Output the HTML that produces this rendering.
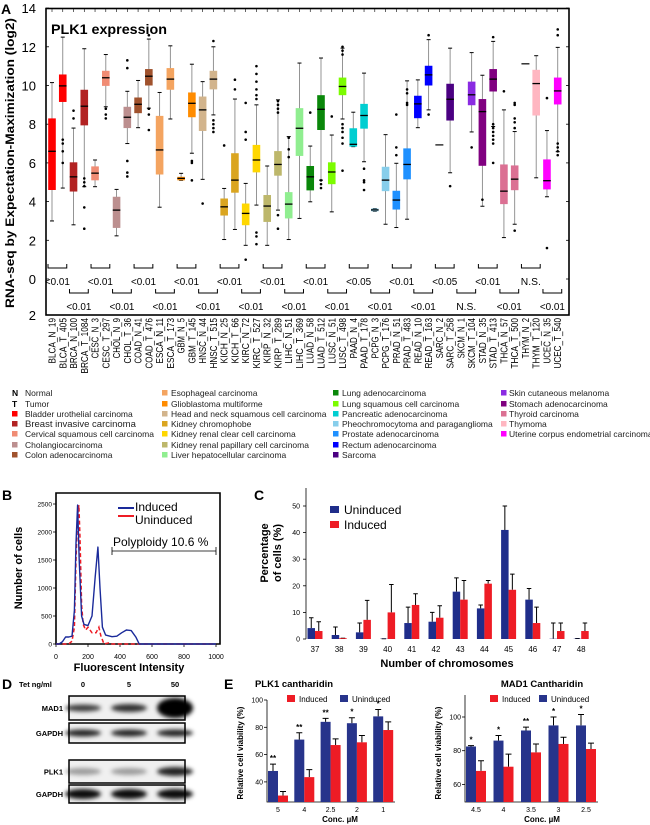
<!DOCTYPE html>
<html><head><meta charset="utf-8"><style>
html,body{margin:0;padding:0;background:#fff;}
svg{display:block;font-family:"Liberation Sans",Arial,sans-serif;}
.t{fill:#000;}
</style></head><body>
<svg id="fig" width="650" height="825" viewBox="0 0 650 825" xmlns="http://www.w3.org/2000/svg">
<defs>
<filter id="blur" x="-50%" y="-100%" width="200%" height="300%"><feGaussianBlur stdDeviation="2.2"/></filter>
</defs>
<text x="1" y="14" font-size="14" font-weight="bold">A</text>
<rect x="46" y="8.5" width="523" height="306.5" fill="none" stroke="#000" stroke-width="1.6"/>
<text x="51" y="34" font-size="14" font-weight="bold" textLength="116" lengthAdjust="spacingAndGlyphs">PLK1 expression</text>
<text transform="translate(14,163) rotate(-90)" text-anchor="middle" font-size="11.5" font-weight="bold" textLength="290" lengthAdjust="spacingAndGlyphs">RNA-seq by Expectation-Maximization (log2)</text>
<g id="gA"></g>
<g id="gAlab"></g>
<g id="gLeg" font-size="8.5"></g>

<text x="2" y="500" font-size="14" font-weight="bold">B</text>
<text transform="translate(22,568) rotate(-90)" text-anchor="middle" font-size="11" font-weight="bold">Number of cells</text>
<text x="129" y="671" text-anchor="middle" font-size="11" font-weight="bold">Fluorescent Intensity</text>
<g id="gB"></g>
<text x="135" y="511" font-size="12">Induced</text>
<text x="135" y="524" font-size="12">Uninduced</text>
<line x1="118" y1="508" x2="134" y2="508" stroke="#1a2a9a" stroke-width="2"/>
<line x1="118" y1="516" x2="134" y2="516" stroke="#ee1c25" stroke-width="2"/>
<text x="113" y="546" font-size="12">Polyploidy 10.6 %</text>
<path d="M112,547 V555 M112,551 H216 M216,547 V555" stroke="#000" stroke-width="0.8" fill="none"/>

<text x="254" y="500" font-size="14" font-weight="bold">C</text>
<text transform="translate(268,553) rotate(-90)" text-anchor="middle" font-size="11" font-weight="bold">Percentage</text>
<text transform="translate(281,553) rotate(-90)" text-anchor="middle" font-size="11" font-weight="bold">of cells (%)</text>
<text x="447" y="667" text-anchor="middle" font-size="11" font-weight="bold">Number of chromosomes</text>
<rect x="330" y="506" width="9" height="7" fill="#1f2d8a"/>
<text x="344" y="514" font-size="12">Uninduced</text>
<rect x="330" y="521" width="9" height="7" fill="#ee1c25"/>
<text x="344" y="529" font-size="12">Induced</text>
<g id="gC"></g>

<text x="2" y="689" font-size="14" font-weight="bold">D</text>
<text x="19" y="687" font-size="7.5" font-weight="bold">Tet ng/ml</text>
<text x="83" y="687" font-size="7.5" font-weight="bold" text-anchor="middle">0</text>
<text x="129" y="687" font-size="7.5" font-weight="bold" text-anchor="middle">5</text>
<text x="175" y="687" font-size="7.5" font-weight="bold" text-anchor="middle">50</text>
<g id="gD"></g>

<text x="224" y="689" font-size="14" font-weight="bold">E</text>
<g id="gE1"></g>
<g id="gE2"></g>
</svg>
<script>
const NS='http://www.w3.org/2000/svg';
function mk(parent,tag,attrs,txt){const e=document.createElementNS(NS,tag);for(const k in attrs)e.setAttribute(k,attrs[k]);if(txt!==undefined)e.textContent=txt;parent.appendChild(e);return e;}

const catsA=['BLCA_N_19','BLCA_T_405','BRCA_N_100','BRCA_T_1084','CESC_N_3','CESC_T_297','CHOL_N_9','CHOL_T_36','COAD_N_41','COAD_T_476','ESCA_N_11','ESCA_T_173','GBM_N_5','GBM_T_145','HNSC_N_44','HNSC_T_515','KICH_N_25','KICH_T_66','KIRC_N_72','KIRC_T_527','KIRP_N_32','KIRP_T_289','LIHC_N_51','LIHC_T_369','LUAD_N_58','LUAD_T_512','LUSC_N_51','LUSC_T_498','PAAD_N_4','PAAD_T_178','PCPG_N_3','PCPG_T_176','PRAD_N_51','PRAD_T_483','READ_N_10','READ_T_163','SARC_N_2','SARC_T_258','SKCM_N_1','SKCM_T_104','STAD_N_35','STAD_T_413','THCA_N_57','THCA_T_500','THYM_N_2','THYM_T_120','UCEC_N_35','UCEC_T_540'];
const colorsA=['#ff0000','#b22222','#f08c74','#bc8f8f','#a0522d','#f4a460','#ff8c00','#d2b48c','#daa520','#ffd700','#bdb76b','#90ee90','#0a870a','#7cfc00','#00ced1','#87ceeb','#1e90ff','#0000ff','#4b0082','#8a2be2','#800080','#db7093','#ffb6c1','#ff00ff'];
const medA=[6.6,9.98,5.28,8.93,5.47,10.4,3.56,8.36,9.03,10.48,6.67,10.33,5.2,9.08,8.74,10.33,3.73,5.11,3.39,6.15,3.77,5.92,3.87,7.79,5.28,8.77,5.53,9.95,6.96,8.45,3.57,5.11,4.08,5.92,9.05,10.55,6.93,9.29,null,9.52,8.65,10.33,4.54,5.16,11.12,10.1,5.08,9.72];
const q1A=[4.6,9.15,4.52,7.94,5.1,9.98,2.64,7.8,8.57,10.0,5.4,9.78,5.1,8.36,7.65,9.8,3.28,4.46,2.78,5.51,2.95,5.34,3.13,6.36,4.58,7.7,4.9,9.5,6.84,7.77,3.5,4.54,3.59,5.15,8.31,10.0,6.93,8.19,null,8.98,5.85,9.69,3.87,4.59,11.12,8.45,4.63,9.02];
const q3A=[8.3,10.57,6.03,9.78,5.82,10.76,4.25,8.9,9.38,10.85,8.43,10.9,5.28,9.64,9.43,10.76,4.16,6.5,3.9,6.93,4.34,6.61,4.49,8.83,5.84,9.5,6.03,10.41,7.79,9.05,3.64,5.8,4.56,6.75,9.47,11.02,6.93,10.09,null,10.2,9.3,10.85,5.92,5.87,11.12,10.81,6.18,10.41];
const loA=[3.0,4.7,2.8,4.77,4.77,8.9,2.23,7.0,7.82,8.83,3.71,8.27,5.1,6.5,5.15,8.48,2.04,2.56,1.74,3.82,1.74,3.56,2.04,3.13,3.99,5.11,3.47,8.27,6.84,6.06,3.5,2.83,2.66,3.09,7.82,8.74,6.93,5.49,null,7.6,3.76,7.88,2.14,2.83,11.12,5.23,4.25,6.58];
const hiA=[10.15,12.5,7.8,11.9,6.15,11.6,4.63,9.7,10.26,12.4,9.64,12.05,5.46,11.1,10.2,12.0,4.68,9.3,4.94,9.0,5.84,9.26,7.36,11.16,6.87,11.42,7.44,11.93,8.62,10.64,3.64,7.46,5.98,10.24,10.29,12.37,6.93,11.93,null,11.7,10.53,12.28,8.74,7.62,11.12,11.54,7.67,11.97];
const outA=[[],[7.2,7.0,6.6,6.0],[8.7,8.3],[5.2,5.0,4.8,3.7,2.6],[],[8.8,8.5,8.3],[],[11.3,10.9,6.1,5.5,5.3],[],[12.6,8.8,8.5,7.7],[],[],[],[6.1,6.0,5.1],[3.9],[12.3,8.2,8.0,7.8,7.6],[6.9],[10.3,9.8],[9.1,7.6,7.2,1.0],[11.0,10.6,10.2,9.8,9.5,9.3,2.4,2.2,1.8],[],[9.2,9.0,8.8,8.6,3.3,2.6],[7.3,6.7,6.3],[],[8.6],[5.1,4.9,4.7],[8.4],[12.0,11.8,11.6,8.0,7.8,7.6,7.3,7.0,5.6],[],[5.7,5.1,5.0,4.6],[],[],[8.5,6.8,6.4],[9.8,9.6,9.1,9.0],[],[12.6,8.5],[],[4.8],[],[6.8],[4.1],[12.5,8.0,7.8,7.6,7.4,7.2,7.0,6.0],[9.7],[9.1,9.0,8.3,8.1,7.8,2.5],[],[],[9.35,1.6],[12.9,12.6,7.0,6.8,6.6,6.4]];
const yTicksA=[0,2,4,6,8,10,12,14];
const pRow1=['<0.01','<0.01','<0.01','<0.01','<0.01','<0.01','<0.01','<0.05','<0.01','<0.05','<0.01','N.S.'];
const pRow2=['<0.01','<0.01','<0.01','<0.01','<0.01','<0.01','<0.01','<0.01','<0.01','N.S.','<0.01','<0.01'];

const yA=v=>279-v*19.35;
const xA=i=>52+i*10.76;
const gA=document.getElementById('gA');
yTicksA.forEach(t=>{
  const l=mk(gA,'text',{x:36,y:yA(t)+5,'font-size':13,'text-anchor':'end'},String(t));
  
  
  const tk=mk(gA,'line',{x1:46,x2:49,y1:yA(t),y2:yA(t),stroke:'#000','stroke-width':0.8});
  
  
  const tk2=mk(gA,'line',{x1:566,x2:569,y1:yA(t),y2:yA(t),stroke:'#000','stroke-width':0.8});
  
  
});
const lb2=mk(gA,'text',{x:36,y:320,'font-size':13,'text-anchor':'end'},'2');


for(let i=0;i<catsA.length;i++){
  const tk=mk(gA,'line',{x1:xA(i),x2:xA(i),y1:9,y2:12,stroke:'#000','stroke-width':0.6});
  
  
}
catsA.forEach((c,i)=>{
  const x=xA(i);
  const col=colorsA[Math.floor(i/2)];
  if(medA[i]!==null){
    if(loA[i]===hiA[i]){
      const ln=mk(gA,'line',{x1:x-4,x2:x+4,y1:yA(medA[i]),y2:yA(medA[i]),stroke:'#000','stroke-width':1.2});
      
      
    } else {
      const w=mk(gA,'line',{x1:x,x2:x,y1:yA(hiA[i]),y2:yA(loA[i]),stroke:'#888','stroke-width':0.9});
      
      
      [hiA[i],loA[i]].forEach(v=>{
        const cap=mk(gA,'line',{x1:x-2,x2:x+2,y1:yA(v),y2:yA(v),stroke:'#000','stroke-width':1});
        
        
      });
      const b=mk(gA,'rect',{x:x-3.8,y:yA(q3A[i]),width:7.6,height:Math.max(1.5,yA(q1A[i])-yA(q3A[i])),fill:col});
      
      
      const m=mk(gA,'line',{x1:x-3.8,x2:x+3.8,y1:yA(medA[i]),y2:yA(medA[i]),stroke:'#000','stroke-width':1.3});
      
      
    }
  }
  outA[i].forEach(v=>{
    const d=mk(gA,'circle',{cx:x,cy:yA(v),r:1.3,fill:'#000'});
    
    
  });
  const lt=mk(document.getElementById('gAlab'),'text',{transform:`translate(${x+3.5},318) rotate(-90)`,'font-size':10,'text-anchor':'end',textLength:c.length*5.05,lengthAdjust:'spacingAndGlyphs'},c);
  
  
});
for(let p=0;p<24;p++){
  const row=p%2;
  const x0=xA(2*p)-4, x1=xA(2*p+1)+4;
  const yb=row===0?268:293;
  const br=mk(gA,'path',{d:`M${x0},${yb-4} V${yb} H${x1} V${yb-4}`,fill:'none',stroke:'#000','stroke-width':1});
  
  
  const txt=row===0?pRow1[p/2]:pRow2[(p-1)/2];
  const t=mk(gA,'text',{x:(x0+x1)/2,y:row===0?285:310,'font-size':10,'text-anchor':'middle',textLength:txt.length*5,lengthAdjust:'spacingAndGlyphs'},txt);
  
  
}

const legCols=[
 [['N','Normal'],['T','Tumor'],['#ff0000','Bladder urothelial carcinoma'],['#b22222','Breast invasive carcinoma'],['#f08c74','Cervical squamous cell carcinoma'],['#bc8f8f','Cholangiocarcinoma'],['#a0522d','Colon adenocarcinoma']],
 [['#f4a460','Esophageal carcinoma'],['#ff8c00','Glioblastoma multiforme'],['#d2b48c','Head and neck squamous cell carcinoma'],['#daa520','Kidney chromophobe'],['#ffd700','Kidney renal clear cell carcinoma'],['#bdb76b','Kidney renal papillary cell carcinoma'],['#90ee90','Liver hepatocellular carcinoma']],
 [['#0a870a','Lung adenocarcinoma'],['#7cfc00','Lung squamous cell carcinoma'],['#00ced1','Pancreatic adenocarcinoma'],['#87ceeb','Pheochromocytoma and paraganglioma'],['#1e90ff','Prostate adenocarcinoma'],['#0000ff','Rectum adenocarcinoma'],['#4b0082','Sarcoma']],
 [['#8a2be2','Skin cutaneous melanoma'],['#800080','Stomach adenocarcinoma'],['#db7093','Thyroid carcinoma'],['#ffb6c1','Thymoma'],['#ff00ff','Uterine corpus endometrial carcinoma']]
];
const legX=[[12,25],[162,171],[333,342],[501,509]];
const legY=[393,404,414,424,434,445,455];
const gL=document.getElementById('gLeg');
legCols.forEach((col,ci)=>col.forEach((e,ri)=>{
  const y=legY[ri];
  if(e[0].length===1){
    const s=mk(gL,'text',{x:legX[ci][0],y:y+3,'font-weight':'bold','font-size':8.5},e[0]);
    
    
  } else {
    const s=mk(gL,'rect',{x:legX[ci][0],y:y-3,width:5.5,height:5.5,fill:e[0]});
    
    
  }
  const t=mk(gL,'text',{x:legX[ci][1],y:y+3,'font-size':(e[1]==='Breast invasive carcinoma'?9.5:8.5),fill:'#222'},e[1]);
  
  
}));

const bXTicks=[0,200,400,600,800,1000];
const bYTicks=[0,500,1000,1500,2000,2500];
const bIntensityInd=[0,20,40,60,80,100,115,125,135,145,160,175,200,225,245,262,275,290,310,350,380,410,440,470,500,520,600,800,1000];
const bCountInd=[0,0,40,125,125,140,600,1800,2480,1500,500,350,330,500,1200,1730,1000,300,160,130,140,200,250,240,120,0,0,0,0];
const bIntensityUn=[0,40,80,100,115,125,135,143,150,160,170,185,200,225,250,268,280,300,330,350,1000];
const bCountUn=[0,0,0,50,300,1500,2300,2480,1900,700,350,250,300,200,200,300,150,0,20,0,0];
const xB=v=>56+v*0.16, yB=v=>644-v*0.056;
const gB=document.getElementById('gB');
const fb=mk(gB,'path',{d:'M56,493 V644 H220 V493 Z',fill:'none',stroke:'#000','stroke-width':1.6});


bYTicks.forEach(t=>{
  const l=mk(gB,'text',{x:52,y:yB(t)+2.5,'font-size':6.5,'text-anchor':'end'},String(t));
  
  
  const k=mk(gB,'line',{x1:53,x2:56,y1:yB(t),y2:yB(t),stroke:'#000','stroke-width':0.8});
  
  
});
bXTicks.forEach(t=>{
  const l=mk(gB,'text',{x:xB(t),y:659,'font-size':7,'text-anchor':'middle'},String(t));
  
  
  const k=mk(gB,'line',{x1:xB(t),x2:xB(t),y1:644,y2:647,stroke:'#000','stroke-width':0.8});
  
  
});
const pInd=bIntensityInd.map((v,i)=>xB(v)+','+yB(bCountInd[i])).join(' ');
const pUn=bIntensityUn.map((v,i)=>xB(v)+','+yB(bCountUn[i])).join(' ');
const lu=mk(gB,'polyline',{points:pUn,fill:'none',stroke:'#ee1c25','stroke-width':1.5,'stroke-dasharray':'4,2.5'});


const li=mk(gB,'polyline',{points:pInd,fill:'none',stroke:'#1a2a9a','stroke-width':1.4,'stroke-linejoin':'round'});



const chromCats=['37','38','39','40','41','42','43','44','45','46','47','48'];
const uninducedVals=[4.1,1.5,2.5,0.1,6,6.5,17.8,11.5,41,14.8,0.1,0.1];
const uninducedErr=[8,4.5,6,0.1,12,10,23,12.8,50,19,6,0.2];
const inducedVals=[3,0.3,7.2,10,12.8,8,14.8,20.8,18.5,6,3,3];
const inducedErr=[6.5,0.3,14.5,20.5,17,12.5,22,22,24.4,12,6,6];
const cTicks=[0,10,20,30,40,50];
const xC=i=>315+i*24.2, yC=v=>639-v*2.66;
const gC=document.getElementById('gC');
const ax=mk(gC,'path',{d:'M306,488 V639',fill:'none',stroke:'#000','stroke-width':0.8});


cTicks.forEach(t=>{
  const l=mk(gC,'text',{x:300,y:yC(t)+2.5,'font-size':7,'text-anchor':'end'},String(t));
  
  
  const k=mk(gC,'line',{x1:303,x2:306,y1:yC(t),y2:yC(t),stroke:'#000','stroke-width':0.8});
  
  
});
chromCats.forEach((c,i)=>{
  const x=xC(i);
  [[uninducedVals[i],uninducedErr[i],'#1f2d8a',x-7.5,'uninduced'],[inducedVals[i],inducedErr[i],'#ee1c25',x,'induced']].forEach(s=>{
    const e=mk(gC,'path',{d:`M${s[3]+3.75},${yC(s[0])} V${yC(s[1])} M${s[3]+1.5},${yC(s[1])} H${s[3]+6}`,stroke:'#000','stroke-width':1,fill:'none'});
    
    
    const b=mk(gC,'rect',{x:s[3],y:yC(s[0]),width:7.5,height:yC(0)-yC(s[0]),fill:s[2]});
    
    
  });
  const l=mk(gC,'text',{x:x,y:652,'font-size':8,'text-anchor':'middle'},c);
  
  
});

const blotRows=['MAD1','GAPDH','PLK1','GAPDH'];
const blotTop=[696,723,760,785];
const blotBottom=[720,743,783,803];
const bandIntensity=[[0.75,0.8,1.0],[0.85,0.85,0.85],[0.35,0.35,0.85],[0.95,0.95,0.95]];
const bandHeight=[[5,6,18],[5,5,5],[5,5,7],[8,8,8]];
const gD=document.getElementById('gD');
const laneX=[83,129,175];
blotRows.forEach((r,ri)=>{
  const bg=mk(gD,'rect',{x:69,y:blotTop[ri],width:116,height:blotBottom[ri]-blotTop[ri],fill:'#f0f0f0',stroke:'#000','stroke-width':1.5});
  
  
  const lab=mk(gD,'text',{x:63,y:(blotTop[ri]+blotBottom[ri])/2+3,'font-size':7.5,'font-weight':'bold','text-anchor':'end'},r);
  
  
  laneX.forEach((lx,li)=>{
    const band=mk(gD,'ellipse',{cx:lx,cy:(blotTop[ri]+blotBottom[ri])/2,rx:18,ry:bandHeight[ri][li]/2+1,fill:'#000','fill-opacity':bandIntensity[ri][li],filter:'url(#blur)'});
    
    
  });
});

const e1Cats=['5','4','2.5','2','1'];
const e1Uninduced=[48,71,84,83,88];
const e1UninducedErr=[53,76,86.5,87,93];
const e1Induced=[30,43.5,67,69,78];
const e1InducedErr=[33,49,71.5,74,84];
const e1Stars=['**','**','**','*','*'];
const e1Ticks=[40,60,80,100];
const e2Cats=['4.5','4','3.5','3','2.5'];
const e2Uninduced=[82.5,86,92,95,95];
const e2UninducedErr=[83,89,94,100,101.5];
const e2Induced=[68,70.5,79,84,81];
const e2InducedErr=[74,78,84,88,84.5];
const e2Stars=['*','*','**','*','*'];
const e2Ticks=[60,80,100];

function barChart(g,cfg){
  const y=v=>cfg.y0-(v-cfg.vmin)*cfg.k;
  const t=mk(g,'text',{x:cfg.cx,y:687,'font-size':9.5,'font-weight':'bold','text-anchor':'middle'},cfg.title);
  
  
  const a=mk(g,'path',{d:`M${cfg.ax},${cfg.top} V802 H${cfg.right}`,fill:'none',stroke:'#000','stroke-width':0.8});
  
  
  cfg.ticks.forEach(v=>{
    const l=mk(g,'text',{x:cfg.ax-4,y:y(v)+2.5,'font-size':7,'text-anchor':'end'},String(v));
    
    
    const k=mk(g,'line',{x1:cfg.ax-3,x2:cfg.ax,y1:y(v),y2:y(v),stroke:'#000','stroke-width':0.8});
    
    
  });
  cfg.cats.forEach((c,i)=>{
    const x=cfg.x0+i*cfg.dx;
    [[cfg.un[i],cfg.unE[i],'#27348b',x-10,'uninduced'],[cfg.ind[i],cfg.indE[i],'#ee1c25',x,'induced']].forEach(s=>{
      const e=mk(g,'path',{d:`M${s[3]+5},${y(s[0])} V${y(s[1])} M${s[3]+2},${y(s[1])} H${s[3]+8}`,stroke:'#000','stroke-width':1,fill:'none'});
      
      
      const b=mk(g,'rect',{x:s[3],y:y(s[0]),width:10,height:802-y(s[0]),fill:s[2]});
      
      
    });
    const st=mk(g,'text',{x:x-5,y:y(cfg.unE[i])-3,'font-size':8,'font-weight':'bold','text-anchor':'middle'},cfg.stars[i]);
    
    
    const l=mk(g,'text',{x:x,y:812,'font-size':7,'text-anchor':'middle'},c);
    
    
  });
  const xt=mk(g,'text',{x:cfg.cx+(cfg.xtc||0),y:822,'font-size':8,'font-weight':'bold','text-anchor':'middle'},'Conc. µM');
  
  
  const yt=mk(g,'text',{transform:`translate(${cfg.ax-24},753) rotate(-90)`,'font-size':8,'font-weight':'bold','text-anchor':'middle'},'Relative cell viability (%)');
  
  
  const r1=mk(g,'rect',{x:cfg.lx,y:695,width:8,height:7,fill:'#ee1c25'});
  
  
  const r1t=mk(g,'text',{x:cfg.lx+12,y:702,'font-size':8},'Induced');
  
  
  const r2=mk(g,'rect',{x:cfg.lx2,y:695,width:8,height:7,fill:'#27348b'});
  
  
  const r2t=mk(g,'text',{x:cfg.lx2+12,y:702,'font-size':8},'Uninduced');
  
  
}
barChart(document.getElementById('gE1'),{title:'PLK1 cantharidin',cx:294,xtc:46,ax:267,right:395,top:700,y0:700,vmin:100,k:1.365,ticks:e1Ticks,cats:e1Cats,x0:278,dx:26.3,un:e1Uninduced,unE:e1UninducedErr,ind:e1Induced,indE:e1InducedErr,stars:e1Stars,lx:287,lx2:340});
barChart(document.getElementById('gE2'),{title:'MAD1 Cantharidin',cx:542,xtc:0,ax:465,right:598,top:695,y0:717,vmin:100,k:1.685,ticks:e2Ticks,cats:e2Cats,x0:476,dx:27.5,un:e2Uninduced,unE:e2UninducedErr,ind:e2Induced,indE:e2InducedErr,stars:e2Stars,lx:490,lx2:539});
</script>
</body></html>
